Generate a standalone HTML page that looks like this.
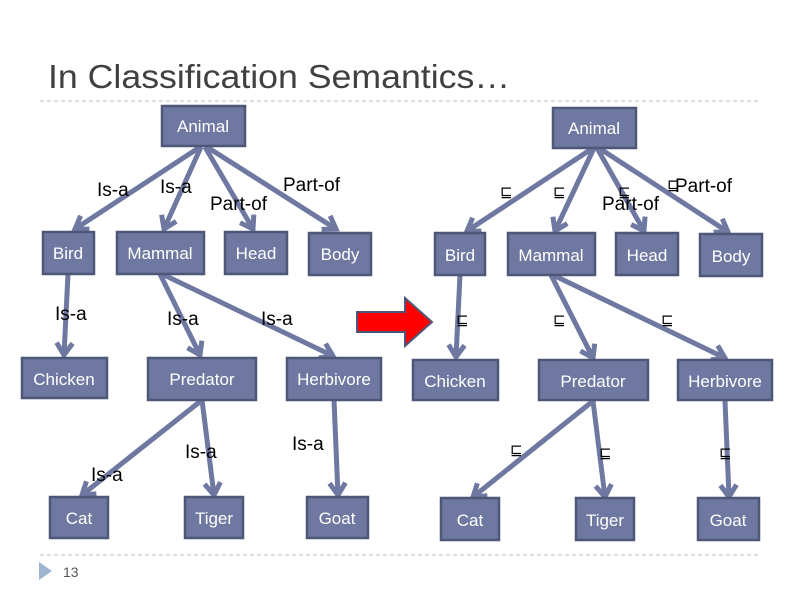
<!DOCTYPE html>
<html><head><style>
body{margin:0;background:#fff}
svg{display:block}
text{font-family:"Liberation Sans",Arial,sans-serif}
.n{fill:#6e78a0;stroke:#4f5778;stroke-width:2.5}
.t{fill:#fff;font-size:17px;text-anchor:middle}
.e{stroke:#6e78a0;stroke-width:5;fill:none;marker-end:url(#a)}
.l{font-size:19px;fill:#000}
.s{font-size:15px;fill:#000}
</style></head><body>
<svg width="800" height="600" viewBox="0 0 800 600">
<defs>
<marker id="a" markerUnits="userSpaceOnUse" markerWidth="30" markerHeight="30" refX="14" refY="10" orient="auto">
<polyline points="2,2 14,10 2,18" fill="none" stroke="#6e78a0" stroke-width="5"/>
</marker>
</defs>
<text x="48" y="88" font-size="33" fill="#404040" style="font-family:'Liberation Sans',sans-serif" textLength="462" lengthAdjust="spacingAndGlyphs">In Classification Semantics…</text>
<line x1="40" y1="101" x2="760" y2="101" stroke="#bbb" stroke-dasharray="4,3"/>
<line x1="40" y1="555" x2="760" y2="555" stroke="#bbb" stroke-dasharray="4,3"/>
<polygon points="39,562 52,571 39,580" fill="#9fb4cf"/>
<text x="63" y="577" font-size="14" fill="#555">13</text>

<!-- left edges -->
<g>
<line class="e" x1="200" y1="147" x2="75" y2="229"/>
<line class="e" x1="201" y1="147" x2="164" y2="229"/>
<line class="e" x1="205" y1="147" x2="253" y2="229"/>
<line class="e" x1="207" y1="147" x2="336" y2="229"/>
<line class="e" x1="68" y1="274" x2="64" y2="355"/>
<line class="e" x1="160" y1="274" x2="200" y2="355"/>
<line class="e" x1="162" y1="274" x2="333" y2="356"/>
<line class="e" x1="202" y1="400" x2="82" y2="495"/>
<line class="e" x1="202" y1="400" x2="214" y2="495"/>
<line class="e" x1="334" y1="400" x2="338" y2="495"/>
</g>
<!-- right edges -->
<g>
<line class="e" x1="593" y1="148" x2="467" y2="231"/>
<line class="e" x1="594" y1="148" x2="555" y2="231"/>
<line class="e" x1="597" y1="148" x2="644" y2="231"/>
<line class="e" x1="599" y1="148" x2="728" y2="232"/>
<line class="e" x1="460" y1="275" x2="456" y2="357"/>
<line class="e" x1="551" y1="275" x2="593" y2="358"/>
<line class="e" x1="553" y1="275" x2="725" y2="358"/>
<line class="e" x1="593" y1="401" x2="473" y2="497"/>
<line class="e" x1="593" y1="401" x2="605" y2="497"/>
<line class="e" x1="725" y1="401" x2="729" y2="497"/>
</g>

<!-- left nodes -->
<rect class="n" x="162" y="106" width="83" height="40"/><text class="t" x="203" y="132">Animal</text>
<rect class="n" x="43" y="232" width="51" height="42"/><text class="t" x="68" y="259">Bird</text>
<rect class="n" x="117" y="232" width="87" height="42"/><text class="t" x="160" y="259">Mammal</text>
<rect class="n" x="225" y="232" width="62" height="42"/><text class="t" x="256" y="259">Head</text>
<rect class="n" x="309" y="233" width="62" height="42"/><text class="t" x="340" y="260">Body</text>
<rect class="n" x="22" y="358" width="85" height="40"/><text class="t" x="64" y="385">Chicken</text>
<rect class="n" x="148" y="358" width="108" height="42"/><text class="t" x="202" y="385">Predator</text>
<rect class="n" x="287" y="358" width="94" height="42"/><text class="t" x="334" y="385">Herbivore</text>
<rect class="n" x="50" y="497" width="58" height="41"/><text class="t" x="79" y="524">Cat</text>
<rect class="n" x="185" y="497" width="58" height="41"/><text class="t" x="214" y="524">Tiger</text>
<rect class="n" x="307" y="497" width="61" height="41"/><text class="t" x="337" y="524">Goat</text>

<!-- right nodes -->
<rect class="n" x="553" y="108" width="83" height="40"/><text class="t" x="594" y="134">Animal</text>
<rect class="n" x="435" y="233" width="50" height="42"/><text class="t" x="460" y="261">Bird</text>
<rect class="n" x="508" y="233" width="87" height="42"/><text class="t" x="551" y="261">Mammal</text>
<rect class="n" x="616" y="233" width="62" height="42"/><text class="t" x="647" y="261">Head</text>
<rect class="n" x="700" y="234" width="62" height="42"/><text class="t" x="731" y="262">Body</text>
<rect class="n" x="413" y="360" width="85" height="40"/><text class="t" x="455" y="387">Chicken</text>
<rect class="n" x="539" y="360" width="109" height="40"/><text class="t" x="593" y="387">Predator</text>
<rect class="n" x="678" y="360" width="94" height="40"/><text class="t" x="725" y="387">Herbivore</text>
<rect class="n" x="441" y="498" width="58" height="42"/><text class="t" x="470" y="526">Cat</text>
<rect class="n" x="576" y="498" width="58" height="42"/><text class="t" x="605" y="526">Tiger</text>
<rect class="n" x="698" y="498" width="61" height="42"/><text class="t" x="728" y="526">Goat</text>

<!-- left labels -->
<text class="l" x="97" y="196">Is-a</text>
<text class="l" x="160" y="193">Is-a</text>
<text class="l" x="210" y="210">Part-of</text>
<text class="l" x="283" y="191">Part-of</text>
<text class="l" x="55" y="320">Is-a</text>
<text class="l" x="167" y="325">Is-a</text>
<text class="l" x="261" y="325">Is-a</text>
<text class="l" x="185" y="458">Is-a</text>
<text class="l" x="91" y="481">Is-a</text>
<text class="l" x="292" y="450">Is-a</text>

<!-- right labels -->
<text class="s" x="500" y="197">⊑</text>
<text class="s" x="553" y="197">⊑</text>
<text class="s" x="618" y="197">⊑</text>
<text class="l" x="602" y="210">Part-of</text>
<text class="s" x="667" y="190">⊑</text>
<text class="l" x="675" y="192">Part-of</text>
<text class="s" x="456" y="325">⊑</text>
<text class="s" x="553" y="325">⊑</text>
<text class="s" x="661" y="325">⊑</text>
<text class="s" x="510" y="455">⊑</text>
<text class="s" x="599" y="458">⊑</text>
<text class="s" x="719" y="458">⊑</text>

<!-- red arrow -->
<polygon points="357,312 405,312 405,298 432,322 405,346 405,332 357,332" fill="#f00" stroke="#4f5778" stroke-width="2"/>
</svg>
</body></html>
